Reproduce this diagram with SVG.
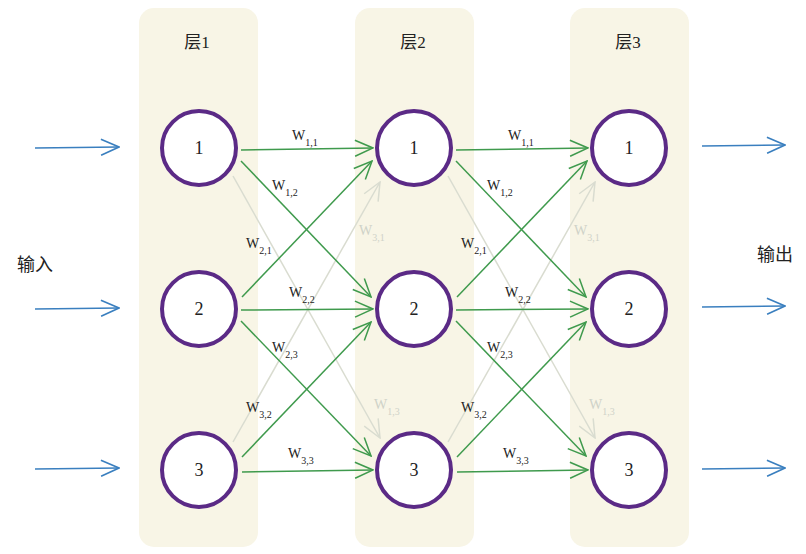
<svg xmlns="http://www.w3.org/2000/svg" width="806" height="554" viewBox="0 0 806 554">
<defs>
<style>
.panel{fill:#f8f5e6;stroke:none}
.node circle{fill:#ffffff;stroke:#5b2a86;stroke-width:4}
.nl{font-family:"Liberation Serif",serif;font-size:18px;fill:#222;text-anchor:middle}
.title{font-family:"Liberation Serif","Noto Sans CJK SC",serif;font-size:17px;fill:#222;text-anchor:middle}
.side{font-family:"Liberation Serif","Noto Sans CJK SC",serif;font-size:18px;fill:#222}
.g{stroke:#3f9a4d;stroke-width:1.5;fill:none;marker-end:url(#ag)}
.f{stroke:#d9dcd0;stroke-width:1.5;fill:none;marker-end:url(#af)}
.b{stroke:#3a7fbf;stroke-width:1.6;fill:none;marker-end:url(#ab)}
.w{font-family:"Liberation Serif",serif;font-size:14px;fill:#222}
.wf{font-family:"Liberation Serif",serif;font-size:14px;fill:#cfd2c8}
.s{font-size:10px}
</style>
<marker id="ag" viewBox="0 0 20 20" refX="19" refY="10" markerWidth="20" markerHeight="20" markerUnits="userSpaceOnUse" orient="auto">
<path d="M1,2 L19,10 L1,18" fill="none" stroke="#3f9a4d" stroke-width="1.5"/>
</marker>
<marker id="af" viewBox="0 0 20 20" refX="19" refY="10" markerWidth="20" markerHeight="20" markerUnits="userSpaceOnUse" orient="auto">
<path d="M1,2 L19,10 L1,18" fill="none" stroke="#d9dcd0" stroke-width="1.5"/>
</marker>
<marker id="ab" viewBox="0 0 20 20" refX="19" refY="10" markerWidth="20" markerHeight="20" markerUnits="userSpaceOnUse" orient="auto">
<path d="M1,2 L19,10 L1,18" fill="none" stroke="#3a7fbf" stroke-width="1.6"/>
</marker>
</defs>
<rect width="806" height="554" fill="#ffffff"/>
<g id="panels">
<rect class="panel" x="139" y="8" width="119" height="539" rx="15"/>
<rect class="panel" x="355" y="8" width="119" height="539" rx="15"/>
<rect class="panel" x="570" y="8" width="119" height="539" rx="15"/>
<text class="title" x="197" y="48">层1</text>
<text class="title" x="413" y="48">层2</text>
<text class="title" x="628" y="48">层3</text>
</g>
<g id="connectors">
<line class="f" x1="233" y1="176" x2="380" y2="438"/>
<line class="f" x1="233" y1="442" x2="380" y2="182"/>
<line class="f" x1="448" y1="176" x2="595" y2="438"/>
<line class="f" x1="448" y1="442" x2="595" y2="182"/>
<line class="g" x1="241" y1="150" x2="373" y2="148"/>
<line class="g" x1="241" y1="161" x2="371" y2="297"/>
<line class="g" x1="242" y1="297" x2="372" y2="161"/>
<line class="g" x1="241" y1="310" x2="373" y2="309"/>
<line class="g" x1="241" y1="321" x2="371" y2="456"/>
<line class="g" x1="242" y1="457" x2="371" y2="322"/>
<line class="g" x1="242" y1="472" x2="373" y2="470"/>
<line class="g" x1="456" y1="150" x2="588" y2="148"/>
<line class="g" x1="456" y1="161" x2="586" y2="297"/>
<line class="g" x1="457" y1="297" x2="587" y2="161"/>
<line class="g" x1="456" y1="310" x2="588" y2="309"/>
<line class="g" x1="456" y1="321" x2="586" y2="456"/>
<line class="g" x1="457" y1="457" x2="586" y2="322"/>
<line class="g" x1="457" y1="472" x2="588" y2="470"/>
<line class="b" x1="35" y1="148" x2="119" y2="147"/>
<line class="b" x1="35" y1="309" x2="119" y2="308"/>
<line class="b" x1="35" y1="469" x2="119" y2="468"/>
<line class="b" x1="702" y1="146" x2="785" y2="145"/>
<line class="b" x1="702" y1="307" x2="785" y2="306"/>
<line class="b" x1="702" y1="469" x2="785" y2="468"/>
</g>
<g id="labels">
<text class="w" x="292" y="140">W<tspan class="s" dy="6">1,1</tspan></text>
<text class="w" x="272" y="190">W<tspan class="s" dy="6">1,2</tspan></text>
<text class="w" x="246" y="248">W<tspan class="s" dy="6">2,1</tspan></text>
<text class="wf" x="359" y="235">W<tspan class="s" dy="6">3,1</tspan></text>
<text class="w" x="289" y="297">W<tspan class="s" dy="6">2,2</tspan></text>
<text class="w" x="272" y="352">W<tspan class="s" dy="6">2,3</tspan></text>
<text class="w" x="246" y="412">W<tspan class="s" dy="6">3,2</tspan></text>
<text class="wf" x="374" y="409">W<tspan class="s" dy="6">1,3</tspan></text>
<text class="w" x="288" y="458">W<tspan class="s" dy="6">3,3</tspan></text>
<text class="w" x="508" y="140">W<tspan class="s" dy="6">1,1</tspan></text>
<text class="w" x="487" y="190">W<tspan class="s" dy="6">1,2</tspan></text>
<text class="w" x="461" y="248">W<tspan class="s" dy="6">2,1</tspan></text>
<text class="wf" x="574" y="235">W<tspan class="s" dy="6">3,1</tspan></text>
<text class="w" x="505" y="297">W<tspan class="s" dy="6">2,2</tspan></text>
<text class="w" x="487" y="352">W<tspan class="s" dy="6">2,3</tspan></text>
<text class="w" x="461" y="412">W<tspan class="s" dy="6">3,2</tspan></text>
<text class="wf" x="589" y="409">W<tspan class="s" dy="6">1,3</tspan></text>
<text class="w" x="503" y="458">W<tspan class="s" dy="6">3,3</tspan></text>
<text class="side" x="17" y="271">输入</text>
<text class="side" x="757" y="261">输出</text>
</g>
<g id="n11" class="node"><circle cx="199" cy="148" r="37"/><text class="nl" x="199" y="154">1</text></g>
<g id="n12" class="node"><circle cx="199" cy="309" r="37"/><text class="nl" x="199" y="315">2</text></g>
<g id="n13" class="node"><circle cx="199" cy="470" r="37"/><text class="nl" x="199" y="476">3</text></g>
<g id="n21" class="node"><circle cx="414" cy="148" r="37"/><text class="nl" x="414" y="154">1</text></g>
<g id="n22" class="node"><circle cx="414" cy="309" r="37"/><text class="nl" x="414" y="315">2</text></g>
<g id="n23" class="node"><circle cx="414" cy="470" r="37"/><text class="nl" x="414" y="476">3</text></g>
<g id="n31" class="node"><circle cx="629" cy="148" r="37"/><text class="nl" x="629" y="154">1</text></g>
<g id="n32" class="node"><circle cx="629" cy="309" r="37"/><text class="nl" x="629" y="315">2</text></g>
<g id="n33" class="node"><circle cx="629" cy="470" r="37"/><text class="nl" x="629" y="476">3</text></g>
</svg>
